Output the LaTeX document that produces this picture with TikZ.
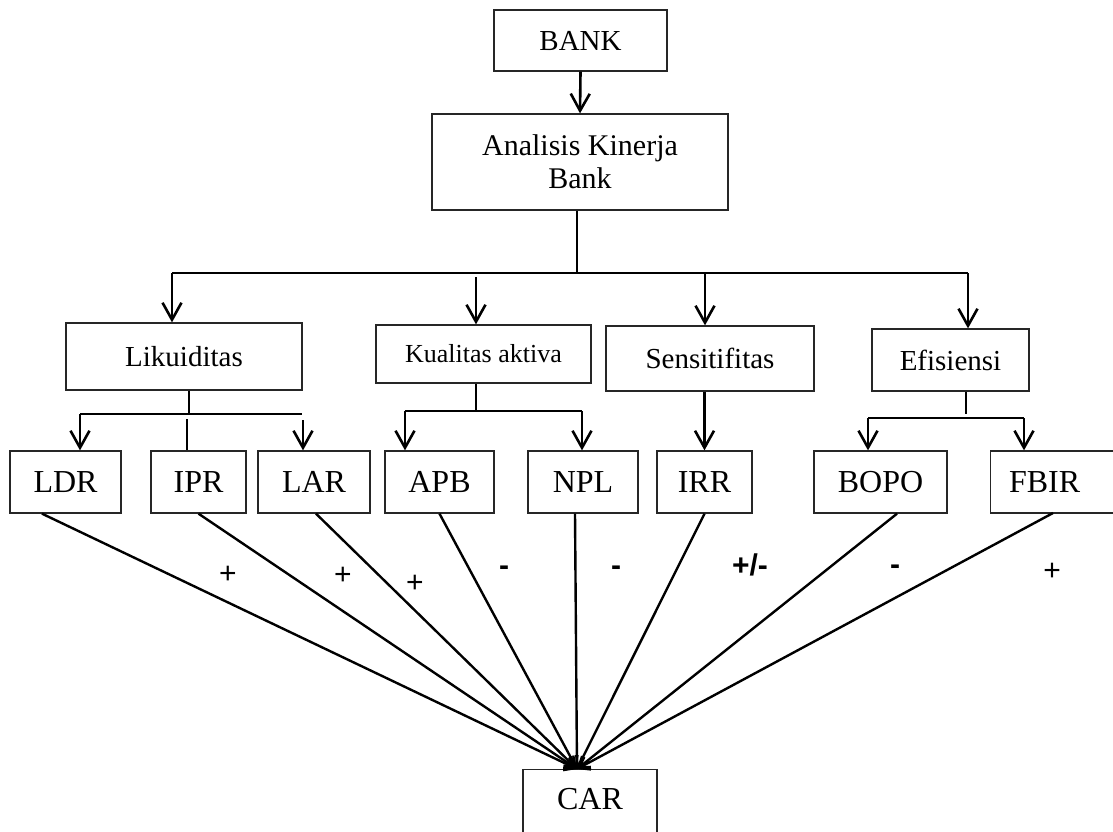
\documentclass[tikz,border=0pt]{standalone}
\usepackage{fontspec}
\setmainfont{Liberation Serif}
\newfontfamily\signfont{Liberation Sans}
\usetikzlibrary{arrows.meta,calc}
\begin{document}
\begin{tikzpicture}[x=1pt,y=-1pt,
  box/.style={draw=black!85,line width=1.3pt,inner sep=0pt,align=center},
  ln/.style={line width=2.6pt},
  thinln/.style={line width=1.9pt},
  arr/.style={line width=2.6pt,-{Straight Barb[length=17pt,width=19pt,line width=2.6pt]}},
  carr/.style={line width=2.4pt,-{Straight Barb[length=10pt,width=14pt,line width=2.4pt]}},
  sign/.style={font=\signfont\fontsize{30}{30}\selectfont,inner sep=0pt},
  bsign/.style={font=\signfont\bfseries\fontsize{30}{30}\selectfont,inner sep=0pt},
  midf/.style={font=\fontsize{29}{31}\selectfont},
  bigf/.style={font=\fontsize{32}{34}\selectfont}]
\useasboundingbox (0,0) rectangle (1113,831);

% boxes
\node[box,midf,minimum width=173pt,minimum height=61pt] (bank) at (580.5,40.5) {BANK};
\node[box,font=\fontsize{30}{33}\selectfont,minimum width=296pt,minimum height=96pt] (ana) at (580,162) {Analisis Kinerja\\Bank};
\node[box,midf,minimum width=236pt,minimum height=67pt] (lik) at (184,356.5) {Likuiditas};
\node[box,font=\fontsize{26}{28}\selectfont,minimum width=215pt,minimum height=58pt] (kual) at (483.5,354) {Kualitas aktiva};
\node[box,midf,minimum width=208pt,minimum height=65pt] (sens) at (710,358.5) {Sensitifitas};
\node[box,midf,minimum width=157pt,minimum height=62pt] (efi) at (950.5,360) {Efisiensi};

\node[box,bigf,minimum width=111pt,minimum height=62pt] (ldr) at (65.5,482) {LDR};
\node[box,bigf,minimum width=95pt,minimum height=62pt] (ipr) at (198.5,482) {IPR};
\node[box,bigf,minimum width=112pt,minimum height=62pt] (lar) at (314,482) {LAR};
\node[box,bigf,minimum width=109pt,minimum height=62pt] (apb) at (439.5,482) {APB};
\node[box,bigf,minimum width=110pt,minimum height=62pt] (npl) at (583,482) {NPL};
\node[box,bigf,minimum width=95pt,minimum height=62pt] (irr) at (704.5,482) {IRR};
\node[box,bigf,minimum width=133pt,minimum height=62pt] (bopo) at (880.5,482) {BOPO};
\node[box,bigf,minimum width=132pt,minimum height=62pt,anchor=west] (fbir) at (990,482) {FBIR\hspace*{24pt}};

\node[box,bigf,minimum width=134pt,minimum height=80pt,anchor=north] (car) at (590,769) {CAR\rule[-22pt]{0pt}{0pt}};

% top connectors
\draw[arr] (bank.south) -- (ana.north);
\coordinate (j0) at (577,273);
\coordinate (bL) at (172,273);
\coordinate (bK) at (476,273);
\coordinate (bS) at (705,273);
\coordinate (bE) at (968,273);
\draw[thinln] (ana.south -| j0) -- (j0);
\draw[ln] (bL) -- (bE);
\draw[arr] (bL) -- (bL |- lik.north);
\draw[arr] ([yshift=-4pt]bK) -- (bK |- kual.north);
\draw[arr] (bS) -- (bS |- sens.north);
\draw[arr] (bE) -- (bE |- efi.north);

% Likuiditas group
\coordinate (lj) at (189,414);
\coordinate (lL) at (80,414);
\coordinate (lR) at (302,414);
\coordinate (ipt) at (187,419);
\coordinate (lat) at (303,420);
\draw[ln] (lik.south -| lj) -- (lj);
\draw[ln] (lL) -- (lR);
\draw[arr] (lL) -- (lL |- ldr.north);
\draw[thinln] (ipt) -- (ipt |- ipr.north);
\draw[arr] (lat) -- (lat |- lar.north);

% Kualitas group
\coordinate (kj) at (476,411);
\coordinate (kL) at (405,411);
\coordinate (kR) at (582,411);
\draw[ln] (kual.south -| kj) -- (kj);
\draw[ln] (kL) -- (kR);
\draw[arr] (kL) -- (kL |- apb.north);
\draw[arr] (kR) -- (kR |- npl.north);

% Sensitifitas
\draw[arr] (irr.north |- sens.south) -- (irr.north);

% Efisiensi group
\coordinate (ej) at (966,418);
\coordinate (eL) at (868,418);
\coordinate (eR) at (1024,418);
\draw[thinln] (efi.south -| ej) -- ([yshift=4pt]ej);
\draw[ln] (eL) -- (eR);
\draw[arr] (eL) -- (eL |- bopo.north);
\draw[arr] (eR) -- (eR |- fbir.north);

% lines to CAR
\coordinate (ct) at (577,769);
\draw[carr] ($(ldr.south)+(-23.5,0)$) -- (ct);
\draw[carr] (ipr.south) -- (ct);
\draw[carr] ($(lar.south)+(2,0)$) -- (ct);
\draw[carr] (apb.south) -- (ct);
\draw[carr] ($(npl.south)+(-8,0)$) -- (ct);
\draw[carr] (irr.south) -- (ct);
\draw[carr] ($(bopo.south)+(16.5,0)$) -- (ct);
\draw[carr] (1053,513) -- (ct);

% signs
\node[sign] (s1) at (228,575) {+};
\node[sign] (s2) at (343,576) {+};
\node[sign] (s3) at (415,584) {+};
\node[bsign] (s4) at (504,571) {-};
\node[bsign] (s5) at (616,571) {-};
\node[bsign] (s6) at (750,565) {+/-};
\node[bsign] (s7) at (895,570) {-};
\node[sign] (s8) at (1052,572) {+};
\end{tikzpicture}
\end{document}
